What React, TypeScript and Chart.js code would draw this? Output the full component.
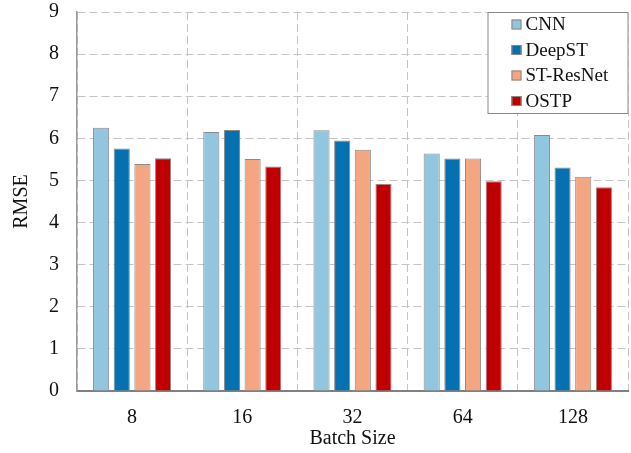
import React, { useEffect, useRef } from "react";
import { Chart, registerables } from "chart.js";

Chart.register(...registerables);

const categories = ["8", "16", "32", "64", "128"];
const seriesNames = ["CNN", "DeepST", "ST-ResNet", "OSTP"];
const cnn = [6.25, 6.15, 6.19, 5.64, 6.08];
const deepST = [5.76, 6.2, 5.95, 5.52, 5.31];
const stResNet = [5.39, 5.51, 5.73, 5.52, 5.09];
const ostp = [5.53, 5.33, 4.92, 4.98, 4.84];
const colors = ["#92C5DE", "#0571B0", "#F4A582", "#C00000"];
const yTicks = [0, 1, 2, 3, 4, 5, 6, 7, 8, 9];

const FONT = "'Liberation Serif', 'Times New Roman', serif";

const boxLegend = {
  id: "boxLegend",
  afterDraw(chart: any) {
    const { ctx, chartArea } = chart;
    const right = chartArea.right + 0.5;
    const top = chartArea.top;
    const w = 141;
    const h = 102;
    const left = right - w;
    ctx.save();
    ctx.fillStyle = "#ffffff";
    ctx.fillRect(left, top, w, h);
    ctx.strokeStyle = "#888888";
    ctx.lineWidth = 1;
    ctx.setLineDash([]);
    ctx.strokeRect(left + 0.5, top + 0.5, w - 1, h - 1);
    ctx.font = `19px ${FONT}`;
    ctx.textBaseline = "middle";
    ctx.textAlign = "left";
    chart.data.datasets.forEach((ds: any, i: number) => {
      const cy = top + 12.5 + i * 25.5;
      const sx = left + 24;
      ctx.fillStyle = ds.backgroundColor;
      ctx.fillRect(sx, cy - 5, 10, 10);
      ctx.strokeStyle = "#888888";
      ctx.strokeRect(sx + 0.5, cy - 4.5, 9, 9);
      ctx.fillStyle = "#111111";
      ctx.fillText(ds.label, sx + 14, cy + 1);
    });
    ctx.restore();
  },
};

export default function App() {
  const ref = useRef<HTMLCanvasElement | null>(null);
  useEffect(() => {
    if (!ref.current) return;
    const series = [cnn, deepST, stResNet, ostp];
    const chart = new Chart(ref.current, {
      type: "bar",
      data: {
        labels: categories,
        datasets: series.map((d, i) => ({
          label: seriesNames[i],
          data: d,
          backgroundColor: colors[i],
          borderColor: "#8a8a8a",
          borderWidth: 1,
          barPercentage: 0.78,
          categoryPercentage: 0.75,
        })),
      },
      options: {
        animation: false,
        responsive: false,
        maintainAspectRatio: false,
        layout: { padding: { top: 12, right: 3, left: 0, bottom: 0 } },
        plugins: { legend: { display: false }, tooltip: { enabled: false } },
        scales: {
          x: {
            grid: {
              display: true,
              offset: true,
              color: "#c4c4c4",
              lineWidth: 1,
              drawTicks: false,
            },
            border: { display: true, color: "#808080", width: 2, dash: [8, 4] },
            ticks: { color: "#111", font: { family: FONT, size: 20 }, padding: 15 },
            title: {
              display: true,
              text: "Batch Size",
              color: "#111",
              font: { family: FONT, size: 20 },
              padding: { top: 0, bottom: 2 },
            },
            afterFit(scale: any) {
              scale.height = 62;
              scale.paddingLeft = 0;
              scale.paddingRight = 0;
            },
          },
          y: {
            min: 0,
            max: 9,
            afterBuildTicks(scale: any) {
              scale.ticks = yTicks.map((v) => ({ value: v }));
            },
            grid: { color: "#c4c4c4", lineWidth: 1, drawTicks: false },
            border: { display: true, color: "#9a9a9a", width: 1.5, dash: [8, 4] },
            ticks: { color: "#111", font: { family: FONT, size: 20 }, padding: 18 },
            title: {
              display: true,
              text: "RMSE",
              color: "#111",
              font: { family: FONT, size: 20 },
              padding: { top: 10, bottom: 0 },
            },
            afterFit(scale: any) {
              scale.width = 77;
              scale.paddingTop = 0;
              scale.paddingBottom = 0;
            },
          },
        },
      },
      plugins: [boxLegend],
    });
    return () => chart.destroy();
  }, []);
  return (
    <div style={{ position: "fixed", left: 0, top: 0, width: 631, height: 453, background: "#fff" }}>
      <canvas ref={ref} width={631} height={453} style={{ width: 631, height: 453 }} />
    </div>
  );
}
